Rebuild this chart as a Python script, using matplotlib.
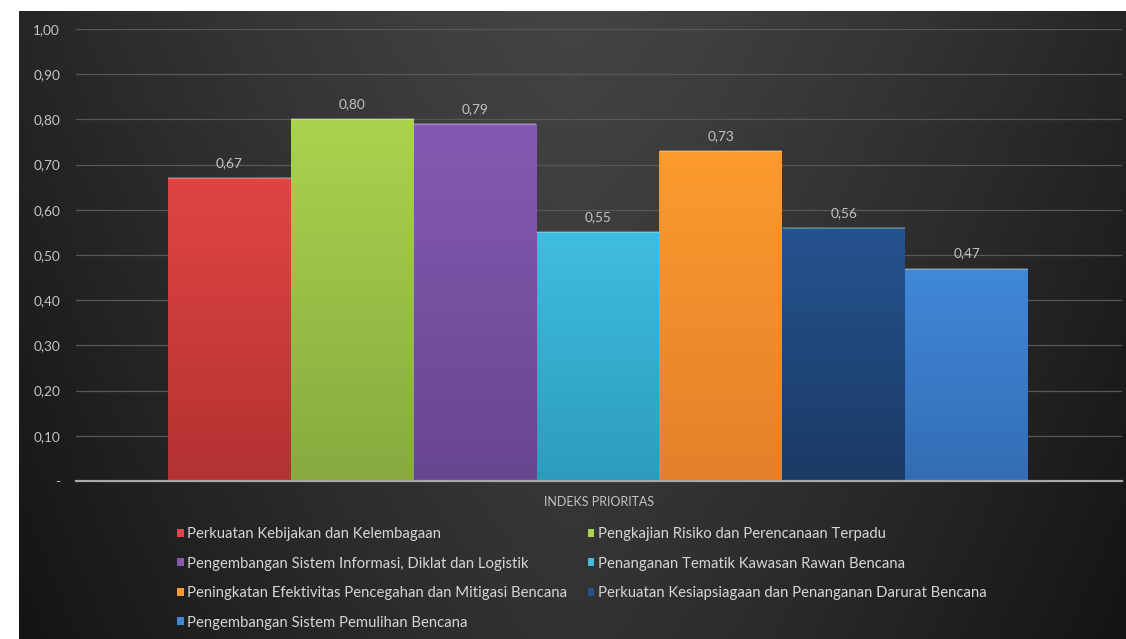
import numpy as np
import matplotlib
matplotlib.use("Agg")
import matplotlib.pyplot as plt
from matplotlib.colors import LinearSegmentedColormap

# data
categories = [
    "Perkuatan Kebijakan dan Kelembagaan",
    "Pengkajian Risiko dan Perencanaan Terpadu",
    "Pengembangan Sistem Informasi, Diklat dan Logistik",
    "Penanganan Tematik Kawasan Rawan Bencana",
    "Peningkatan Efektivitas Pencegahan dan Mitigasi Bencana",
    "Perkuatan Kesiapsiagaan dan Penanganan Darurat Bencana",
    "Pengembangan Sistem Pemulihan Bencana",
]
values = [0.67, 0.80, 0.79, 0.55, 0.73, 0.56, 0.47]
value_labels = ["0,67", "0,80", "0,79", "0,55", "0,73", "0,56", "0,47"]
yticks = [0.0, 0.1, 0.2, 0.3, 0.4, 0.5, 0.6, 0.7, 0.8, 0.9, 1.0]
ytick_labels = ["-", "0,10", "0,20", "0,30", "0,40", "0,50", "0,60", "0,70", "0,80", "0,90", "1,00"]
xlabel = "INDEKS PRIORITAS"

# colours (top, bottom) for each bar
top_colors = ["#e04444", "#a9d34e", "#8559b2", "#3fbde0", "#fd9a2e", "#25538f", "#4088d8"]
bottom_colors = ["#b33232", "#88aa40", "#674690", "#2d9cbc", "#e4802a", "#1b3a65", "#346db5"]

plt.rcParams["font.family"] = ["Lato", "DejaVu Sans"]
txt_color = "#c4c4c4"

fig = plt.figure(figsize=(11.26, 6.39), dpi=100)
fig.patch.set_facecolor("white")

# dark gradient background panel
bg = fig.add_axes([19 / 1126, 0, 1 - 19 / 1126, 1 - 11 / 639])
gx = np.linspace(-1, 1, 400)
gy = np.linspace(0, 1, 250)
X, Y = np.meshgrid(gx, gy)
shade = 68 - 30 * np.abs(X) ** 1.3 - 18 * Y
shade = np.clip(shade, 0, 255) / 255.0
bg.imshow(np.dstack([shade, shade, shade]), aspect="auto", extent=[0, 1, 0, 1], origin="upper")
bg.set_axis_off()

# main axes
ax = fig.add_axes([76 / 1126, 1 - 481 / 639, (1122 - 76) / 1126, 452 / 639])
ax.patch.set_alpha(0)

x = np.arange(len(values))
bars = ax.bar(x, values, width=1.0, color=top_colors, zorder=2)

# vertical gradient on every bar
for b, ct, cb in zip(bars, top_colors, bottom_colors):
    cmap = LinearSegmentedColormap.from_list("g", [cb, ct])
    grad = np.linspace(0, 1, 100).reshape(-1, 1)
    bx, bw, bh = b.get_x(), b.get_width(), b.get_height()
    im = ax.imshow(grad, cmap=cmap, aspect="auto", origin="lower",
                   extent=[bx, bx + bw, 0, bh], zorder=3)
    im.set_clip_path(b)
    # thin light edge on top of the bar
    ax.plot([bx + 0.01, bx + bw - 0.01], [bh, bh], color="white", alpha=0.25, lw=1.5, zorder=4)

ax.set_xlim(-1.249, 7.265)
ax.set_ylim(0, 1.0)
ax.set_aspect("auto")

for xi, v, lab in zip(x, values, value_labels):
    ax.annotate(lab, (xi, v), xytext=(0, 10.8), textcoords="offset points",
                ha="center", va="center", color=txt_color, fontsize=9.8)

ax.set_yticks(yticks)
ax.set_yticklabels(ytick_labels)
ax.tick_params(axis="y", length=0, pad=11.5, labelcolor=txt_color, labelsize=9.8)
ax.set_xticks([])
ax.yaxis.grid(True, color="#585858", lw=0.9)
ax.set_axisbelow(True)
for s in ["top", "left", "right"]:
    ax.spines[s].set_visible(False)
ax.spines["bottom"].set_color("#a8a8a8")
ax.spines["bottom"].set_linewidth(1.6)
ax.spines["bottom"].set_zorder(5)

ax.set_xlabel(xlabel, color=txt_color, fontsize=9, labelpad=11)

# legend, row-major order in two columns
order = [0, 2, 4, 6, 1, 3, 5]
leg = fig.legend([bars[i] for i in order], [categories[i] for i in order],
                 ncol=2, loc="upper left", bbox_to_anchor=(177 / 1126, 1 - 527 / 639),
                 frameon=False, fontsize=10.75, handlelength=0.45, handleheight=0.45,
                 handletextpad=0.25, labelspacing=1.04, columnspacing=1.35, borderpad=0,
                 borderaxespad=0)
for t in leg.get_texts():
    t.set_color("#d6d6d6")

fig.savefig("out.png", dpi=100)
